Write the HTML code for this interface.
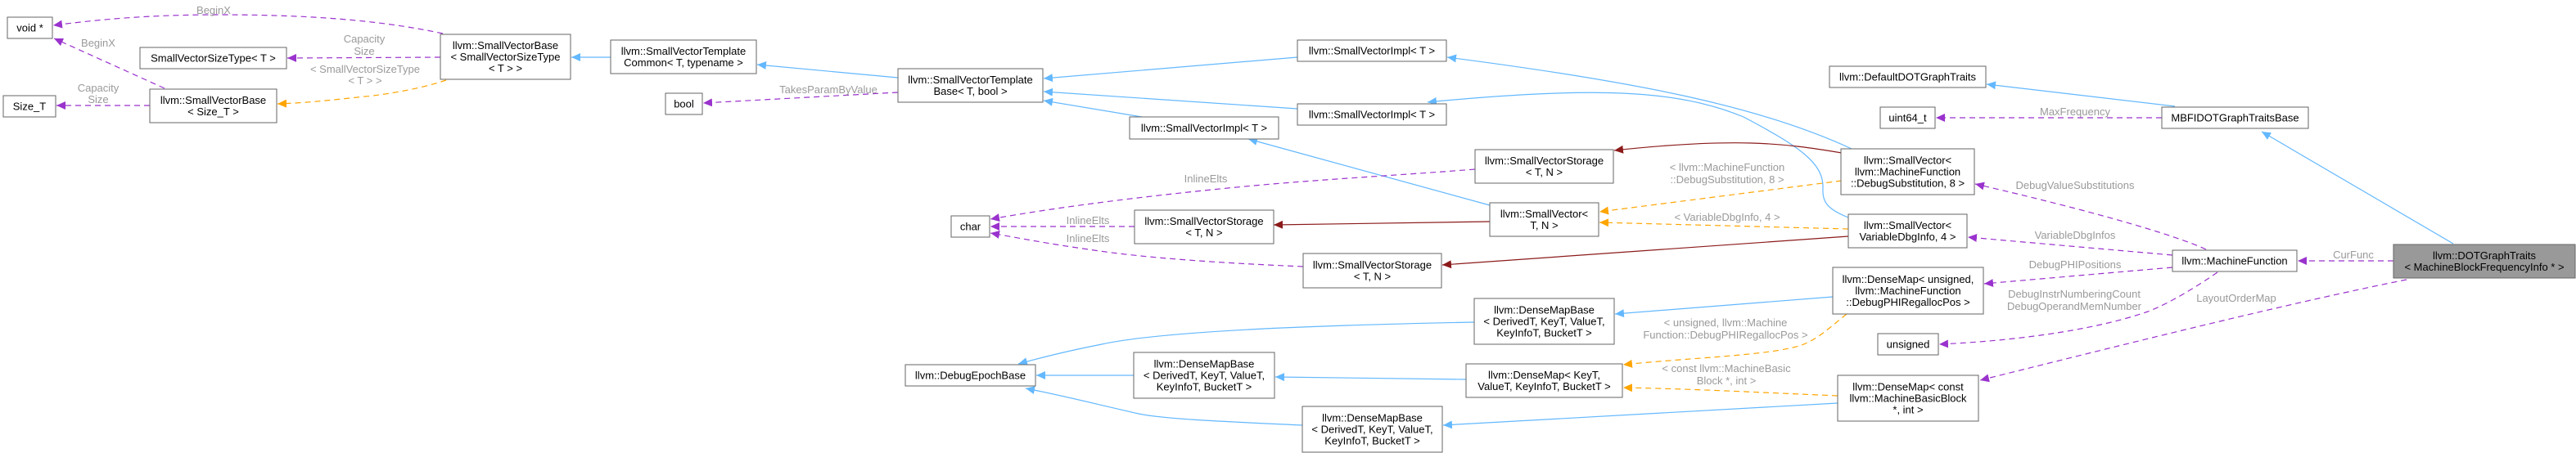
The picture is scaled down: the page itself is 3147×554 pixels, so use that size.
<!DOCTYPE html>
<html><head><meta charset="utf-8"><style>
html,body{margin:0;padding:0;background:#fff;}
svg{display:block;}
text{font-family:"Liberation Sans",Arial,sans-serif;font-size:13px;}
.n{fill:#fff;stroke:#666;stroke-width:1;}
.t{fill:#000;text-anchor:middle;}
.l{fill:#9a9a9a;text-anchor:middle;}
.b{fill:none;stroke:#63b8ff;stroke-width:1.2;}
.r{fill:none;stroke:#8b1a1a;stroke-width:1.2;}
.o{fill:none;stroke:#ffa500;stroke-width:1.2;stroke-dasharray:7,5;}
.p{fill:none;stroke:#9a32cd;stroke-width:1.2;stroke-dasharray:7,5;}
</style></head><body>
<svg width="3147" height="554" viewBox="0 0 3147 554" xmlns="http://www.w3.org/2000/svg">
<defs>
<marker id="mb" markerWidth="12" markerHeight="10" refX="11" refY="5" orient="auto" markerUnits="userSpaceOnUse"><path d="M0,0 L11,5 L0,10 z" fill="#63b8ff"/></marker>
<marker id="mr" markerWidth="12" markerHeight="10" refX="11" refY="5" orient="auto" markerUnits="userSpaceOnUse"><path d="M0,0 L11,5 L0,10 z" fill="#8b1a1a"/></marker>
<marker id="mo" markerWidth="12" markerHeight="10" refX="11" refY="5" orient="auto" markerUnits="userSpaceOnUse"><path d="M0,0 L11,5 L0,10 z" fill="#ffa500"/></marker>
<marker id="mp" markerWidth="12" markerHeight="10" refX="11" refY="5" orient="auto" markerUnits="userSpaceOnUse"><path d="M0,0 L11,5 L0,10 z" fill="#9a32cd"/></marker>
</defs>

<!-- edges -->
<path class="b" marker-end="url(#mb)" d="M746,70 L698,70"/>
<path class="b" marker-end="url(#mb)" d="M1097,95 L925,79"/>
<path class="b" marker-end="url(#mb)" d="M1585,70 L1275,96"/>
<path class="b" marker-end="url(#mb)" d="M1585,133 L1275,112"/>
<path class="b" marker-end="url(#mb)" d="M1395,143 L1275,123"/>
<path class="b" marker-end="url(#mb)" d="M1820,251 L1525,170"/>
<path class="b" marker-end="url(#mb)" d="M2262,182 C2150,130 2000,100 1768,70"/>
<path class="b" marker-end="url(#mb)" d="M2258,266 C2230,255 2226,245 2227,230 C2228,200 2200,180 2130,143 C2050,110 1950,105 1744,125"/>
<path class="r" marker-end="url(#mr)" d="M2250,187 C2180,175 2120,168 1972,184"/>
<path class="r" marker-end="url(#mr)" d="M1820,271 L1556,275"/>
<path class="r" marker-end="url(#mr)" d="M2258,289 L1762,324"/>
<path class="o" marker-end="url(#mo)" d="M2250,221 L1954,259"/>
<path class="o" marker-end="url(#mo)" d="M2258,280 L1954,272"/>
<path class="o" marker-end="url(#mo)" d="M2256,384 C2230,405 2215,420 2190,425 C2150,435 2060,438 1983,446"/>
<path class="o" marker-end="url(#mo)" d="M2245,484 C2150,480 2080,476 1983,474"/>
<path class="b" marker-end="url(#mb)" d="M2239,363 L1973,384"/>
<path class="b" marker-end="url(#mb)" d="M2245,493 L1763,520"/>
<path class="b" marker-end="url(#mb)" d="M1791,464 L1558,461"/>
<path class="b" marker-end="url(#mb)" d="M1801,394 C1600,398 1420,405 1346,421 C1300,430 1270,438 1244,445"/>
<path class="b" marker-end="url(#mb)" d="M1385,459 L1266,459"/>
<path class="b" marker-end="url(#mb)" d="M1591,520 C1480,515 1420,512 1391,506 C1330,492 1290,482 1253,475"/>
<path class="p" marker-end="url(#mp)" d="M541,41 C480,28 400,18 268,18 C180,18 120,24 65,31"/>
<path class="p" marker-end="url(#mp)" d="M201,108 L66,47"/>
<path class="p" marker-end="url(#mp)" d="M538,70 L351,71"/>
<path class="p" marker-end="url(#mp)" d="M183,129 L69,129"/>
<path class="o" marker-end="url(#mo)" d="M545,98 C510,110 460,117 446,118 C400,123 370,126 339,127"/>
<path class="p" marker-end="url(#mp)" d="M1097,113 L859,126"/>
<path class="p" marker-end="url(#mp)" d="M1802,207 C1700,215 1600,220 1500,230 C1400,240 1300,252 1210,268"/>
<path class="p" marker-end="url(#mp)" d="M1386,277 L1210,277"/>
<path class="p" marker-end="url(#mp)" d="M1592,326 C1500,322 1400,316 1330,305 C1280,298 1250,292 1210,285"/>
<path class="p" marker-end="url(#mp)" d="M2641,144 L2365,144"/>
<path class="p" marker-end="url(#mp)" d="M2695,305 C2640,280 2500,245 2413,225"/>
<path class="p" marker-end="url(#mp)" d="M2654,312 L2404,290"/>
<path class="p" marker-end="url(#mp)" d="M2654,327 L2424,347"/>
<path class="p" marker-end="url(#mp)" d="M2709,333 C2670,360 2640,375 2624,381 C2570,400 2480,416 2369,421"/>
<path class="p" marker-end="url(#mp)" d="M2940,342 C2800,370 2620,415 2419,465"/>
<path class="p" marker-end="url(#mp)" d="M2924,319 L2807,319"/>
<path class="b" marker-end="url(#mb)" d="M2997,298 L2763,161"/>
<path class="b" marker-end="url(#mb)" d="M2657,130 L2427,103"/>

<!-- edge labels -->
<text class="l" x="261" y="17">BeginX</text>
<text class="l" x="120" y="57">BeginX</text>
<text class="l" x="445" y="52">Capacity</text>
<text class="l" x="445" y="67">Size</text>
<text class="l" x="446" y="89">&lt; SmallVectorSizeType</text>
<text class="l" x="446" y="103">&lt; T &gt; &gt;</text>
<text class="l" x="120" y="112">Capacity</text>
<text class="l" x="120" y="126">Size</text>
<text class="l" x="1012" y="114">TakesParamByValue</text>
<text class="l" x="1473" y="223">InlineElts</text>
<text class="l" x="1329" y="274">InlineElts</text>
<text class="l" x="1329" y="296">InlineElts</text>
<text class="l" x="2110" y="209">&lt; llvm::MachineFunction</text>
<text class="l" x="2110" y="224">::DebugSubstitution, 8 &gt;</text>
<text class="l" x="2110" y="270">&lt; VariableDbgInfo, 4 &gt;</text>
<text class="l" x="2108" y="399">&lt; unsigned, llvm::Machine</text>
<text class="l" x="2108" y="414">Function::DebugPHIRegallocPos &gt;</text>
<text class="l" x="2109" y="455">&lt; const llvm::MachineBasic</text>
<text class="l" x="2109" y="470">Block *, int &gt;</text>
<text class="l" x="2535" y="141">MaxFrequency</text>
<text class="l" x="2535" y="231">DebugValueSubstitutions</text>
<text class="l" x="2535" y="292">VariableDbgInfos</text>
<text class="l" x="2535" y="328">DebugPHIPositions</text>
<text class="l" x="2534" y="364">DebugInstrNumberingCount</text>
<text class="l" x="2534" y="379">DebugOperandMemNumber</text>
<text class="l" x="2732" y="369">LayoutOrderMap</text>
<text class="l" x="2875" y="316">CurFunc</text>

<!-- nodes -->
<rect class="n" x="9" y="21" width="55" height="26"/><text class="t" x="36.5" y="38.5">void *</text>
<rect class="n" x="171" y="58" width="179" height="26"/><text class="t" x="260.5" y="75.5">SmallVectorSizeType&lt; T &gt;</text>
<rect class="n" x="4" y="117" width="64" height="26"/><text class="t" x="36" y="134.5">Size_T</text>
<rect class="n" x="183" y="109" width="155" height="41"/><text class="t" x="260.5" y="127">llvm::SmallVectorBase</text><text class="t" x="260.5" y="141">&lt; Size_T &gt;</text>
<rect class="n" x="538" y="42" width="159" height="55"/><text class="t" x="617.5" y="60">llvm::SmallVectorBase</text><text class="t" x="617.5" y="74">&lt; SmallVectorSizeType</text><text class="t" x="617.5" y="88">&lt; T &gt; &gt;</text>
<rect class="n" x="746" y="49" width="178" height="41"/><text class="t" x="835" y="67">llvm::SmallVectorTemplate</text><text class="t" x="835" y="81">Common&lt; T, typename &gt;</text>
<rect class="n" x="813" y="114" width="45" height="26"/><text class="t" x="835.5" y="131.5">bool</text>
<rect class="n" x="1097" y="84" width="177" height="41"/><text class="t" x="1185.5" y="102">llvm::SmallVectorTemplate</text><text class="t" x="1185.5" y="116">Base&lt; T, bool &gt;</text>
<rect class="n" x="1162" y="264" width="47" height="26"/><text class="t" x="1185.5" y="281.5">char</text>
<rect class="n" x="1380" y="143" width="182" height="27"/><text class="t" x="1471" y="161">llvm::SmallVectorImpl&lt; T &gt;</text>
<rect class="n" x="1386" y="257" width="170" height="41"/><text class="t" x="1471" y="275">llvm::SmallVectorStorage</text><text class="t" x="1471" y="289">&lt; T, N &gt;</text>
<rect class="n" x="1106" y="446" width="159" height="26"/><text class="t" x="1185.5" y="463.5">llvm::DebugEpochBase</text>
<rect class="n" x="1385" y="431" width="172" height="56"/><text class="t" x="1471" y="449.5">llvm::DenseMapBase</text><text class="t" x="1471" y="463.5">&lt; DerivedT, KeyT, ValueT,</text><text class="t" x="1471" y="477.5">KeyInfoT, BucketT &gt;</text>
<rect class="n" x="1585" y="49" width="182" height="26"/><text class="t" x="1676" y="66.5">llvm::SmallVectorImpl&lt; T &gt;</text>
<rect class="n" x="1585" y="127" width="182" height="26"/><text class="t" x="1676" y="144.5">llvm::SmallVectorImpl&lt; T &gt;</text>
<rect class="n" x="1802" y="183" width="169" height="41"/><text class="t" x="1886.5" y="201">llvm::SmallVectorStorage</text><text class="t" x="1886.5" y="215">&lt; T, N &gt;</text>
<rect class="n" x="1820" y="248" width="133" height="41"/><text class="t" x="1886.5" y="266">llvm::SmallVector&lt;</text><text class="t" x="1886.5" y="280">T, N &gt;</text>
<rect class="n" x="1592" y="310" width="169" height="42"/><text class="t" x="1676.5" y="328.5">llvm::SmallVectorStorage</text><text class="t" x="1676.5" y="342.5">&lt; T, N &gt;</text>
<rect class="n" x="1801" y="365" width="171" height="56"/><text class="t" x="1886.5" y="383.5">llvm::DenseMapBase</text><text class="t" x="1886.5" y="397.5">&lt; DerivedT, KeyT, ValueT,</text><text class="t" x="1886.5" y="411.5">KeyInfoT, BucketT &gt;</text>
<rect class="n" x="1791" y="445" width="191" height="41"/><text class="t" x="1886.5" y="463">llvm::DenseMap&lt; KeyT,</text><text class="t" x="1886.5" y="477">ValueT, KeyInfoT, BucketT &gt;</text>
<rect class="n" x="1591" y="497" width="171" height="56"/><text class="t" x="1676.5" y="515.5">llvm::DenseMapBase</text><text class="t" x="1676.5" y="529.5">&lt; DerivedT, KeyT, ValueT,</text><text class="t" x="1676.5" y="543.5">KeyInfoT, BucketT &gt;</text>
<rect class="n" x="2235" y="81" width="191" height="26"/><text class="t" x="2330.5" y="98.5">llvm::DefaultDOTGraphTraits</text>
<rect class="n" x="2297" y="131" width="67" height="26"/><text class="t" x="2330.5" y="148.5">uint64_t</text>
<rect class="n" x="2641" y="131" width="179" height="26"/><text class="t" x="2730.5" y="148.5">MBFIDOTGraphTraitsBase</text>
<rect class="n" x="2249" y="182" width="163" height="56"/><text class="t" x="2330.5" y="200.5">llvm::SmallVector&lt;</text><text class="t" x="2330.5" y="214.5">llvm::MachineFunction</text><text class="t" x="2330.5" y="228.5">::DebugSubstitution, 8 &gt;</text>
<rect class="n" x="2258" y="262" width="145" height="41"/><text class="t" x="2330.5" y="280">llvm::SmallVector&lt;</text><text class="t" x="2330.5" y="294">VariableDbgInfo, 4 &gt;</text>
<rect class="n" x="2239" y="327" width="184" height="57"/><text class="t" x="2331" y="346">llvm::DenseMap&lt; unsigned,</text><text class="t" x="2331" y="360">llvm::MachineFunction</text><text class="t" x="2331" y="374">::DebugPHIRegallocPos &gt;</text>
<rect class="n" x="2294" y="408" width="74" height="26"/><text class="t" x="2331" y="425.5">unsigned</text>
<rect class="n" x="2245" y="459" width="172" height="56"/><text class="t" x="2331" y="477.5">llvm::DenseMap&lt; const</text><text class="t" x="2331" y="491.5">llvm::MachineBasicBlock</text><text class="t" x="2331" y="505.5">*, int &gt;</text>
<rect class="n" x="2654" y="306" width="152" height="26"/><text class="t" x="2730" y="323.5">llvm::MachineFunction</text>
<rect x="2924" y="299" width="222" height="41" fill="#999" stroke="#666" stroke-width="1"/><text class="t" x="3035" y="317">llvm::DOTGraphTraits</text><text class="t" x="3035" y="331">&lt; MachineBlockFrequencyInfo * &gt;</text>
</svg>
</body></html>
